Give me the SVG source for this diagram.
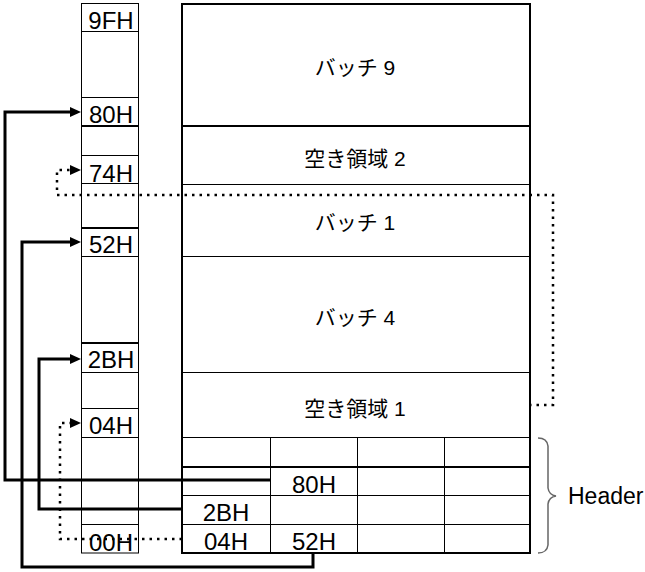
<svg xmlns="http://www.w3.org/2000/svg" width="645" height="572" viewBox="0 0 645 572">
<style>
.bg{fill:#fff}
.thin{stroke:#000;stroke-width:1;fill:none}
.bold{stroke:#000;stroke-width:2;fill:none}
.lbl{font-family:"Liberation Sans",Arial,sans-serif;font-size:24px;fill:#000;text-anchor:middle}
.jp{font-family:"Liberation Sans","Noto Sans CJK JP",sans-serif;font-size:21px;fill:#000;text-anchor:middle}
.solid{stroke:#000;stroke-width:3;fill:none}
.dot{stroke:#000;stroke-width:2.5;fill:none;stroke-dasharray:2.5 5}
</style>
<defs>
<marker id="arr" markerUnits="userSpaceOnUse" markerWidth="12" markerHeight="10" refX="2" refY="5" orient="auto">
<path d="M0,0 L11,5 L0,10 z" fill="#000"/>
</marker>
</defs>
<rect class="bg" x="0" y="0" width="645" height="572"/>

<g id="address-column">
<rect class="thin" x="81.5" y="3.5" width="57" height="549.5"/>
<line class="thin" x1="81" y1="31.5" x2="139" y2="31.5"/>
<line class="thin" x1="81" y1="97.5" x2="139" y2="97.5"/>
<line class="bold" x1="81" y1="126" x2="139" y2="126"/>
<line class="thin" x1="81" y1="155.5" x2="139" y2="155.5"/>
<line class="thin" x1="81" y1="183.5" x2="139" y2="183.5"/>
<line class="bold" x1="81" y1="228" x2="139" y2="228"/>
<line class="thin" x1="81" y1="256.5" x2="139" y2="256.5"/>
<line class="bold" x1="81" y1="343" x2="139" y2="343"/>
<line class="thin" x1="81" y1="372.5" x2="139" y2="372.5"/>
<line class="thin" x1="81" y1="408.5" x2="139" y2="408.5"/>
<line class="thin" x1="81" y1="437.5" x2="139" y2="437.5"/>
<line class="thin" x1="81" y1="524.5" x2="139" y2="524.5"/>
<text class="lbl" x="111" y="29">9FH</text>
<text class="lbl" x="111" y="123">80H</text>
<text class="lbl" x="111" y="182">74H</text>
<text class="lbl" x="111" y="253">52H</text>
<text class="lbl" x="111" y="368">2BH</text>
<text class="lbl" x="111" y="434">04H</text>
<text class="lbl" x="111" y="551">00H</text>
</g>

<g id="memory-area">
<rect class="bold" x="182" y="4" width="348" height="549"/>
<line class="bold" x1="182" y1="126" x2="530" y2="126"/>
<line class="thin" x1="182" y1="184.5" x2="530" y2="184.5"/>
<line class="thin" x1="182" y1="256.5" x2="530" y2="256.5"/>
<line class="thin" x1="182" y1="372.5" x2="530" y2="372.5"/>
<line class="thin" x1="182" y1="437.5" x2="530" y2="437.5"/>
<text class="jp" x="355" y="75">バッチ 9</text>
<text class="jp" x="355" y="166">空き領域 2</text>
<text class="jp" x="355" y="230">バッチ 1</text>
<text class="jp" x="355" y="325">バッチ 4</text>
<text class="jp" x="355" y="416">空き領域 1</text>
</g>

<g id="header-table">
<line class="bold" x1="182" y1="467" x2="530" y2="467"/>
<line class="thin" x1="182" y1="495.5" x2="530" y2="495.5"/>
<line class="thin" x1="182" y1="524.5" x2="530" y2="524.5"/>
<line class="thin" x1="270.5" y1="437" x2="270.5" y2="553"/>
<line class="thin" x1="357.5" y1="437" x2="357.5" y2="553"/>
<line class="thin" x1="444.5" y1="437" x2="444.5" y2="553"/>
<text class="lbl" x="314" y="493">80H</text>
<text class="lbl" x="226" y="521">2BH</text>
<text class="lbl" x="226" y="550">04H</text>
<text class="lbl" x="314" y="550">52H</text>
</g>

<g id="header-brace">
<path d="M538,438 Q547,438 548,446 V488 Q549,495 556,496 Q549,497 548,504 V545 Q547,553 538,553" fill="none" stroke="#666" stroke-width="1.5"/>
<text x="568" y="504" font-family="Liberation Sans,Arial,sans-serif" font-size="23" fill="#000">Header</text>
</g>

<g id="connectors">
<path class="solid" d="M270,480 H5 V112 H72" marker-end="url(#arr)"/>
<path class="solid" d="M313,553 V567 H22 V242 H72" marker-end="url(#arr)"/>
<path class="solid" d="M182,509 H39 V359 H72" marker-end="url(#arr)"/>
<path class="dot" d="M182,539 H60 V423 H72" marker-end="url(#arr)"/>
<path class="dot" d="M529,405 H553 V195 H57 V170 H72" marker-end="url(#arr)"/>
</g>
</svg>
